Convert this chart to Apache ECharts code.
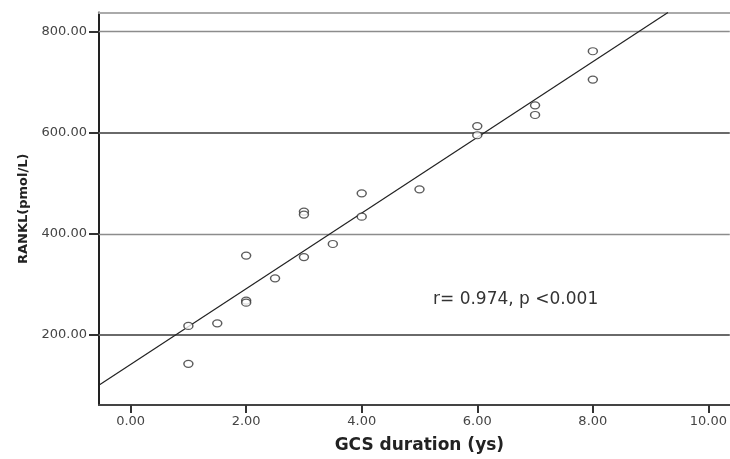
<!DOCTYPE html>
<html>
<head>
<meta charset="utf-8">
<script src="https://cdn.jsdelivr.net/npm/echarts@6/dist/echarts.min.js"></script>
<style>
  html, body { margin: 0; padding: 0; background: #fff; }
  #main { width: 730px; height: 459px; }
</style>
</head>
<body>
<div id="main"></div>
<script>
// values
var duration = [1, 1, 1.5, 2, 2, 2, 2.5, 3, 3, 3, 3.5, 4, 4, 5, 6, 6, 7, 7, 8, 8];
var rankl = [218, 143, 223, 357, 268, 264, 312, 444, 438, 354, 380, 480, 434, 488, 613, 595, 654, 635, 761, 705];
// fit line end points (x, y)
var fitX = [-0.55, 9.3];
var fitY = [100.8, 837.6];
var xTicks = [0, 2, 4, 6, 8, 10];
var yTicks = [200, 400, 600, 800];
var xRange = [-0.547, 10.37];
var yRange = [61.6, 837.6];
var note = 'r= 0.974, p <0.001';

var chart = echarts.init(document.getElementById('main'));

var points = duration.map(function (d, i) { return [d, rankl[i]]; });
var fitLine = fitX.map(function (d, i) { return [d, fitY[i]]; });

// gridlines: 200 and 600 drawn heavier than 400 and 800
var gridLines = yTicks.map(function (v, i) {
  var heavy = (i % 2 === 0);
  return {
    yAxis: v,
    lineStyle: { color: heavy ? '#6a6a6a' : '#8c8c8c', width: heavy ? 2.2 : 1.3, type: 'solid' }
  };
});

var option = {
  backgroundColor: '#fff',
  animation: false,
  grid: { left: 99, right: 0, top: 12.5, bottom: 51 },
  xAxis: [{
    type: 'value',
    min: xRange[0],
    max: xRange[1],
    name: 'GCS duration (ys)',
    nameLocation: 'middle',
    nameGap: 32,
    nameTextStyle: { fontFamily: 'DejaVu Sans', fontWeight: 'bold', fontSize: 17, color: '#222', padding: [0, 0, 0, 10] },
    splitLine: { show: false },
    axisLine: { onZero: false, lineStyle: { color: '#444', width: 2 } },
    axisTick: { show: true, length: 8, customValues: xTicks, lineStyle: { color: '#333', width: 2 } },
    axisLabel: { customValues: xTicks, margin: 10, fontFamily: 'DejaVu Sans', fontSize: 13, color: '#444',
      formatter: function (v) { return v.toFixed(2); } }
  }, {
    type: 'value',
    position: 'top',
    min: xRange[0],
    max: xRange[1],
    splitLine: { show: false },
    axisLine: { show: true, onZero: false, lineStyle: { color: '#aaa', width: 2 } },
    axisTick: { show: false },
    axisLabel: { show: false }
  }],
  yAxis: {
    type: 'value',
    min: yRange[0],
    max: yRange[1],
    name: 'RANKL(pmol/L)',
    nameLocation: 'middle',
    nameGap: 68,
    nameTextStyle: { fontFamily: 'DejaVu Sans', fontWeight: 'bold', fontSize: 13, color: '#222' },
    splitLine: { show: false },
    axisLine: { show: true, onZero: false, lineStyle: { color: '#222', width: 2 } },
    axisTick: { show: true, length: 10, customValues: yTicks, lineStyle: { color: '#333', width: 2 } },
    axisLabel: { customValues: yTicks, margin: 12, fontFamily: 'DejaVu Sans', fontSize: 13, color: '#444',
      formatter: function (v) { return v.toFixed(2); } }
  },
  graphic: [{
    type: 'text',
    left: 433,
    top: 291,
    style: { text: note, fontFamily: 'DejaVu Sans', fontSize: 17, fill: '#333' }
  }],
  series: [{
    type: 'scatter',
    data: points,
    symbol: 'circle',
    symbolSize: [9, 7],
    itemStyle: { color: '#fff', borderColor: '#333', borderWidth: 1.3 },
    z: 5,
    markLine: {
      silent: true,
      symbol: 'none',
      label: { show: false },
      data: gridLines,
      z: 1
    }
  }, {
    type: 'line',
    data: fitLine,
    symbol: 'none',
    lineStyle: { color: '#222', width: 1.2 },
    z: 4
  }]
};

chart.setOption(option);
</script>
</body>
</html>
